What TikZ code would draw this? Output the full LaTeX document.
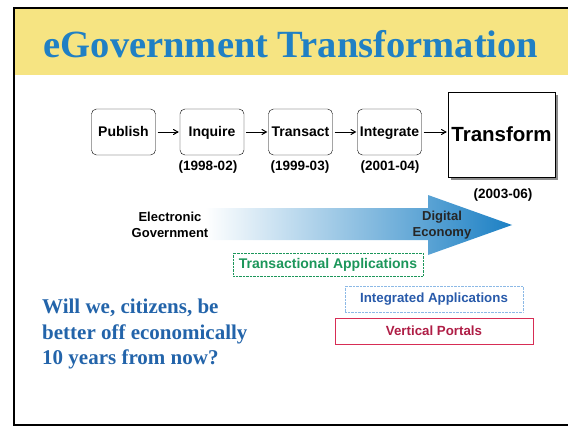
\documentclass[tikz,border=0pt]{standalone}
\usepackage{fontspec}
\setmainfont{Liberation Serif}
\setsansfont{Liberation Sans}
\usepackage{tikz}
\usetikzlibrary{arrows,positioning,shadows}
\tikzstyle{every picture}+=[font=\sffamily]
\definecolor{bandyellow}{RGB}{246,228,130}
\definecolor{titleblue}{RGB}{32,128,196}
\definecolor{arrowblue}{RGB}{28,128,196}
\definecolor{transgreen}{RGB}{28,150,90}
\definecolor{integblue}{RGB}{40,90,170}
\definecolor{integframe}{RGB}{140,185,230}
\definecolor{portalred}{RGB}{175,30,70}
\definecolor{portalframe}{RGB}{215,45,85}
\definecolor{askblue}{RGB}{35,100,170}

\begin{document}
\begin{tikzpicture}
	[x=1pt, y=-1pt, inner sep=0pt,
	stage/.style	= {rectangle,draw,rounded corners=5pt,minimum width=64pt,minimum height=46pt,text height=10pt,text depth=2pt,
	                   font=\sffamily\bfseries\fontsize{14}{16}\selectfont},
	final/.style	= {rectangle,draw,fill=white,minimum width=107pt,minimum height=85pt,font=\sffamily\bfseries\fontsize{20.5}{22}\selectfont,
	                   drop shadow={shadow xshift=3pt,shadow yshift=-3pt,fill=black!45,opacity=1}},
	paths/.style	= {->, >=angle 60, line width=1pt, shorten >= 1pt, shorten <= 2pt},
	year/.style	= {font=\sffamily\bfseries\fontsize{13.5}{15}\selectfont},
	ends/.style	= {align=center, font=\sffamily\bfseries\fontsize{13}{16}\selectfont},
	tag/.style	= {rectangle, densely dotted, thin, font=\sffamily\bfseries\fontsize{13.3}{15}\selectfont}]
	
	\useasboundingbox (0,0) rectangle (568,428);
	\fill [bandyellow] (15,9) rectangle (568,75);
	\draw [line width=1.2pt] (568,8) -- (14,8) -- (14,425) -- (568,425);
	
	\node at (291,44)	[font=\rmfamily\bfseries\fontsize{38.5}{40}\selectfont, text=titleblue]	(title)	{eGovernment Transformation};
	
	\node at (123.5,132)	[stage]	(pub)	{Publish};
	\node at (212,132)	[stage]	(inq)	{Inquire};
	\node at (300.5,132)	[stage]	(tra)	{Transact};
	\node at (389.5,132)	[stage]	(int)	{Integrate};
	\node at (501.5,134.5)	[final]	(trf)	{Transform};
	
	\draw [paths] (pub) -- (inq);
	\draw [paths] (inq) -- (tra);
	\draw [paths] (tra) -- (int);
	\draw [paths] (int) -- (int -| trf.west);
	
	\node at (208,167)	[year]	(yinq)	{(1998-02)};
	\node at (300,167)	[year]	(ytra)	{(1999-03)};
	\node at (390,167)	[year]	(yint)	{(2001-04)};
	\node at (503,195)	[year]	(ytrf)	{(2003-06)};
	
	\shade [left color=white, right color=arrowblue]
		(205,208) -- (428,208) -- (428,195) -- (512,225) -- (428,255) -- (428,240) -- (205,240) -- cycle;
	
	\node at (170,225)	[ends]	(egov)	{Electronic\\Government};
	\node at (442,225)	[ends, text=black!85]	(decon)	{Digital\\Economy};
	
	\node at (328,264.5)	[tag, draw=transgreen, text=transgreen, minimum width=190pt, minimum height=23pt, font=\sffamily\bfseries\fontsize{14}{15}\selectfont]	(tapp)	{Transactional Applications};
	\node at (434,299)	[tag, draw=integframe, text=integblue, minimum width=178pt, minimum height=26pt]	(iapp)	{Integrated Applications};
	\node at (434,331)	[tag, solid, draw=portalframe, text=portalred, minimum width=198pt, minimum height=26pt]	(vport)	{Vertical Portals};
	
	\node at (42,299)	[anchor=north west, align=left, text=askblue, font=\rmfamily\bfseries\fontsize{21}{25.5}\selectfont]	(ask)
		{Will we, citizens, be\\better off economically\\10 years from now?};
	
\end{tikzpicture}
\end{document}
